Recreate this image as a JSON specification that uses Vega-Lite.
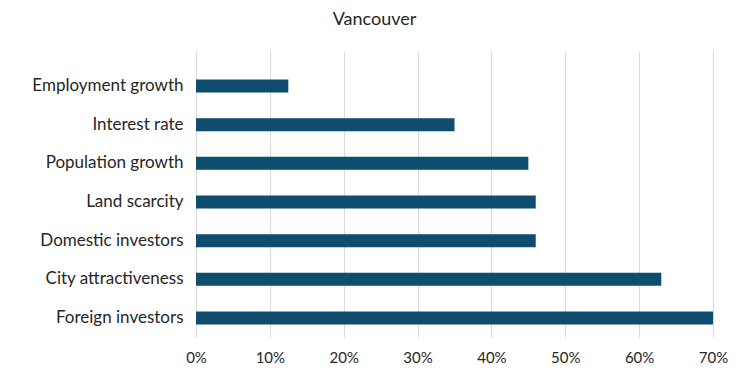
{
  "$schema": "https://vega.github.io/schema/vega-lite/v6.json",
  "width": 517,
  "height": 286,
  "autosize": {"type": "none"},
  "padding": {"left": 196, "top": 51, "right": 37, "bottom": 44},
  "background": "white",
  "title": {
    "text": "Vancouver",
    "frame": "group",
    "anchor": "middle",
    "dx": -80,
    "fontSize": 18,
    "font": "Lato",
    "fontWeight": "normal",
    "color": "#262626",
    "offset": 22
  },
  "data": {
    "values": [
      {"factor": "Employment growth", "share": 0.125},
      {"factor": "Interest rate", "share": 0.35},
      {"factor": "Population growth", "share": 0.45},
      {"factor": "Land scarcity", "share": 0.46},
      {"factor": "Domestic investors", "share": 0.46},
      {"factor": "City attractiveness", "share": 0.63},
      {"factor": "Foreign investors", "share": 0.70}
    ]
  },
  "mark": {"type": "bar", "color": "#0f4d6e"},
  "encoding": {
    "y": {
      "field": "factor",
      "type": "nominal",
      "sort": null,
      "title": null,
      "scale": {"paddingInner": 0.664, "paddingOuter": 0.53, "align": 0.695},
      "axis": {
        "domain": false,
        "ticks": false,
        "labelPadding": 13,
        "labelFont": "Lato",
        "labelFontSize": 17,
        "labelColor": "#262626",
        "labelLimit": 250
      }
    },
    "x": {
      "field": "share",
      "type": "quantitative",
      "title": null,
      "scale": {"domain": [0, 0.7], "nice": false},
      "axis": {
        "format": ".0%",
        "values": [0, 0.1, 0.2, 0.3, 0.4, 0.5, 0.6, 0.7],
        "domain": false,
        "ticks": false,
        "labelFlush": false,
        "labelPadding": 13,
        "labelFont": "Lato",
        "labelFontSize": 15,
        "labelColor": "#262626",
        "grid": true,
        "gridColor": "#d9d9d9",
        "gridWidth": 1
      }
    }
  },
  "config": {"view": {"stroke": null}}
}
